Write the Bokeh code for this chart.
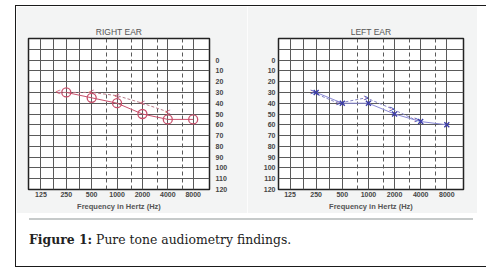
from bokeh.plotting import figure
from bokeh.models import Range1d, FixedTicker, Grid, Div
from bokeh.layouts import row, column
from bokeh.embed import file_html
from bokeh.resources import INLINE

# ---- data ----
freq_ticks = [125, 250, 500, 1000, 2000, 4000, 8000]
freq_labels = ["125", "250", "500", "1000", "2000", "4000", "8000"]
db_ticks = [0, 10, 20, 30, 40, 50, 60, 70, 80, 90, 100, 110, 120]
db_labels = ["0", "10", "20", "30", "40", "50", "60", "70", "80", "90", "100", "110", "120"]
grid_db = [-20, -10, 0, 10, 20, 30, 40, 50, 60, 70, 80, 90, 100, 110, 120]
solid_freq_lines = [125, 177, 250, 354, 500, 1000, 2000, 4000, 8000]
dashed_freq_lines = [750, 1500, 3000, 6000]

right_ac_freq = [250, 500, 1000, 2000, 4000, 8000]
right_ac_db = [30, 35, 40, 50, 55, 55]
right_bc_freq = [200, 500, 1000, 2000, 4000]
right_bc_db = [30, 30, 33, 40, 48]

left_ac_freq = [250, 500, 1000, 2000, 4000, 8000]
left_ac_db = [30, 40, 40, 50, 57, 60]
left_bc_freq = [228, 450, 940, 1850, 3600]
left_bc_db = [30, 40, 35, 45, 56]

FONT = "Liberation Sans"
SCAN_BG = "#f3f4f4"


def audiogram(title, xr, yloc, w, mbl, mbr):
    p = figure(width=w, height=207, x_axis_type="log",
               x_range=Range1d(*xr), y_range=Range1d(120, -20),
               y_axis_location=yloc, output_backend="svg",
               toolbar_location=None, title=title,
               min_border_left=mbl, min_border_right=mbr,
               min_border_top=32, min_border_bottom=24)
    p.background_fill_color = "white"
    p.border_fill_color = SCAN_BG
    p.outline_line_color = "#222222"
    p.outline_line_width = 1.5
    p.title.align = "center"
    p.title.text_font = FONT
    p.title.text_font_size = "8.5px"
    p.title.text_font_style = "normal"
    p.title.text_color = "#555555"
    p.title.standoff = 3
    # grid
    p.xgrid.ticker = FixedTicker(ticks=solid_freq_lines)
    p.xgrid.grid_line_color = "#5a5a5a"
    p.xgrid.grid_line_width = 1
    p.ygrid.ticker = FixedTicker(ticks=grid_db)
    p.ygrid.grid_line_color = "#5a5a5a"
    p.ygrid.grid_line_width = 1
    g = Grid(dimension=0, ticker=FixedTicker(ticks=dashed_freq_lines),
             grid_line_color="#5a5a5a", grid_line_dash="4 3", grid_line_width=1)
    p.add_layout(g)
    # axes
    for ax in p.axis:
        ax.axis_line_color = None
        ax.major_tick_line_color = None
        ax.minor_tick_line_color = None
        ax.major_tick_in = 0
        ax.major_tick_out = 0
        ax.minor_tick_in = 0
        ax.minor_tick_out = 0
        ax.major_label_text_font = FONT
        ax.major_label_text_font_size = "7px"
        ax.major_label_text_font_style = "bold"
        ax.major_label_text_color = "#444444"
    p.xaxis.ticker = FixedTicker(ticks=freq_ticks)
    p.xaxis.major_label_overrides = dict(zip(freq_ticks, freq_labels))
    p.xaxis.major_label_standoff = 2
    p.xaxis.axis_label = "Frequency in Hertz (Hz)"
    p.xaxis.axis_label_text_font = FONT
    p.xaxis.axis_label_text_font_size = "7.5px"
    p.xaxis.axis_label_text_font_style = "bold"
    p.xaxis.axis_label_text_color = "#555555"
    p.xaxis.axis_label_standoff = 2
    p.yaxis.ticker = FixedTicker(ticks=db_ticks)
    p.yaxis.major_label_overrides = dict(zip(db_ticks, db_labels))
    return p


# Right ear
pr = audiogram("RIGHT EAR", (89, 12500), "right", 231, 12, 38)
pr.yaxis.major_label_standoff = 6
RED = "#c8506c"
pr.line(right_bc_freq, right_bc_db, line_color="#b87a88", line_width=1, line_dash="3 2")
pr.text(right_bc_freq, right_bc_db, text=["<"] * len(right_bc_freq),
        text_color=RED, text_font_size="9px", text_align="center",
        text_baseline="middle")
pr.line(right_ac_freq, right_ac_db, line_color=RED, line_width=1)
pr.scatter(right_ac_freq, right_ac_db, marker="circle", size=9,
           fill_color=None, line_color=RED, line_width=1.3)

# Left ear
pl = audiogram("LEFT EAR", (92, 12460), "left", 230, 31, 14)
pl.yaxis.major_label_standoff = 3
BLUE = "#3c3ca8"
pl.line(left_bc_freq, left_bc_db, line_color="#8484c4", line_width=1, line_dash="3 2")
pl.text(left_bc_freq, left_bc_db, text=[">"] * len(left_bc_freq),
        text_color=BLUE, text_font_size="9px", text_align="center",
        text_baseline="middle")
pl.line(left_ac_freq, left_ac_db, line_color="#8a8ad6", line_width=1)
pl.scatter(left_ac_freq, left_ac_db, marker="x", size=7,
           line_color=BLUE, line_width=1.4)

cap = Div(text=(
    '<div style="height:2px;width:444px;margin-left:8px;background:#c6caca"></div>'
    '<div style="font-family:\'DejaVu Serif\';font-size:12.4px;color:#222;'
    'padding:11px 0 0 8px;white-space:nowrap">'
    '<b>Figure 1:</b> Pure tone audiometry findings.</div>'),
    width=461, height=43)

layout = column(row(pr, pl), cap,
                styles={"border": "1.5px solid #1a1a1a"},
                margin=(5, 0, 0, 15))

open("out.html", "w").write(file_html(layout, INLINE))
